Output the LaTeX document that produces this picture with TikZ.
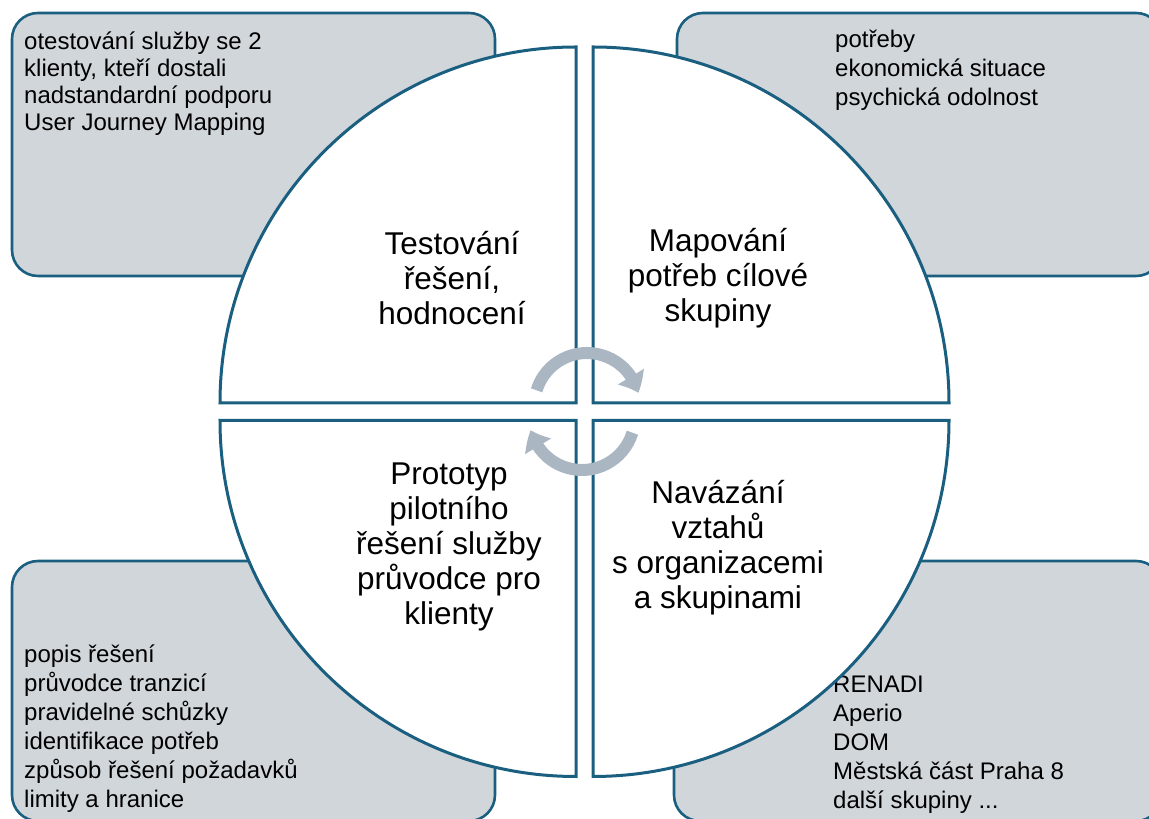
\documentclass[tikz,border=0pt]{standalone}
\usepackage{fontspec}
\setmainfont{Liberation Sans}
\usetikzlibrary{arrows.meta}
\usetikzlibrary{bending}
\definecolor{rimblue}{RGB}{27,95,128}
\definecolor{boxgrey}{RGB}{209,214,219}
\definecolor{turngrey}{RGB}{170,182,194}

\begin{document}
\begin{tikzpicture}[x=1pt,y=1pt,line join=round]
	\tikzstyle{notebox}=[draw=rimblue,fill=boxgrey,line width=2.6pt,rounded corners=26pt]
	\tikzstyle{notetext}=[anchor=west,align=left,inner sep=0pt,font=\fontsize{24}{29}\selectfont]
	\tikzstyle{quadrant}=[draw=rimblue,fill=white,line width=3pt,line join=miter]
	\tikzstyle{phasetext}=[align=center,inner sep=0pt,font=\fontsize{31.5}{35}\selectfont]
	\tikzstyle{turnarrow}=[draw=turngrey,line width=12pt,-{Triangle[width=29pt,length=18pt,bend]}]

	\useasboundingbox (0,0) rectangle (1149,819);
	\clip (0,0) rectangle (1149,819);

	% grey boxes in the corners
	\path[notebox] (12,543) rectangle (495,806);
	\path[notebox] (677,543) rectangle (1162,806);
	\path[notebox] (12,-2) rectangle (495,258);
	\path[notebox] (674,-2) rectangle (1162,258);

	\node[notetext,font=\fontsize{24}{27}\selectfont] (testnotes) at (24,735.5) {otestování služby se 2\\klienty, kteří dostali\\nadstandardní podporu\\User Journey Mapping};
	\node[notetext] (mapnotes)   at (835,748.5) {potřeby\\ekonomická situace\\psychická odolnost};
	\node[notetext] (protonotes) at (24,90.5)   {popis řešení\\průvodce tranzicí\\pravidelné schůzky\\identifikace potřeb\\způsob řešení požadavků\\limity a hranice};
	\node[notetext] (linknotes)  at (833,74.5)  {RENADI\\Aperio\\DOM\\Městská část Praha 8\\další skupiny ...};

	% the four quarters of the circle
	\path[quadrant] (576,416) -- (220,416) arc(180:90:356) -- cycle;
	\path[quadrant] (593,416) -- (593,772) arc(90:0:356) -- cycle;
	\path[quadrant] (576,398.5) -- (220,398.5) arc(180:270:356) -- cycle;
	\path[quadrant] (593,398.5) -- (949,398.5) arc(0:-90:356) -- cycle;

	\node[phasetext] (test)   at (452,541)   {Testování\\řešení,\\hodnocení};
	\node[phasetext] (map)    at (718,541)   {Mapování\\potřeb cílové\\skupiny};
	\node[phasetext] (proto)  at (449,272.5) {Prototyp\\pilotního\\řešení služby\\průvodce pro\\klienty};
	\node[phasetext] (vztahy) at (718,271.5) {Navázání\\vztahů\\s organizacemi\\a skupinami};

	% cycle arrows
	\coordinate (upturn) at (587,413.3);
	\coordinate (downturn) at (582,401.7);
	\draw[turnarrow] (upturn) ++(163:52.7) arc(163:14:52.7);
	\draw[turnarrow] (downturn) ++(-17:52.7) arc(-17:-166:52.7);
\end{tikzpicture}
\end{document}
